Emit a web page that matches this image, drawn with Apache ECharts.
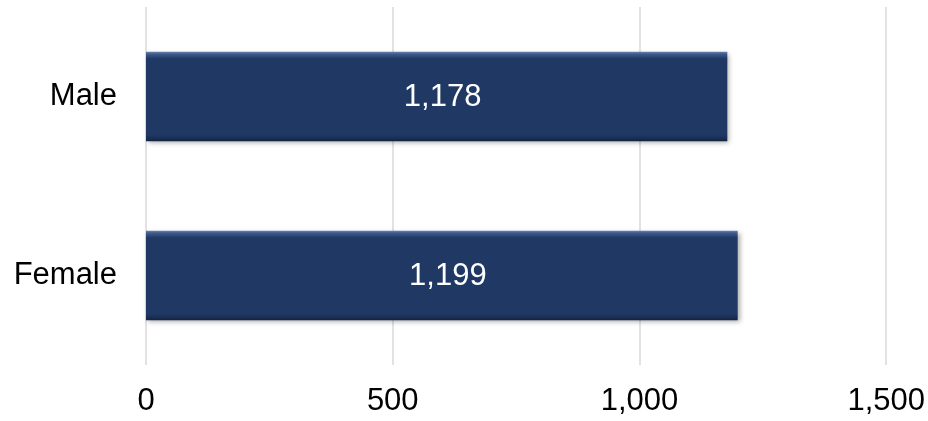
<!DOCTYPE html>
<html>
<head>
<meta charset="utf-8">
<script src="https://cdn.jsdelivr.net/npm/echarts@6/dist/echarts.min.js"></script>
<style>
  html, body { margin: 0; padding: 0; background: #fff; }
  #chart { width: 928px; height: 421px; }
</style>
</head>
<body>
<div id="chart"></div>
<script>
let categories = ["Female", "Male"];
let counts = [1199, 1178];
let xTicks = [0, 500, 1000, 1500];

let chart = echarts.init(document.getElementById("chart"));

// bevel look: light top edge, dark bottom edge
let barFill = new echarts.graphic.LinearGradient(0, 0, 0, 1, [
  { offset: 0, color: "#6a84b0" },
  { offset: 0.025, color: "#3f5b8c" },
  { offset: 0.08, color: "#1f3864" },
  { offset: 0.93, color: "#1f3864" },
  { offset: 0.97, color: "#182d52" },
  { offset: 1, color: "#12233f" }
]);

let font = "Liberation Sans, Arial, sans-serif";

let option = {
  animation: false,
  grid: { left: 146, right: 41, top: 7, bottom: 56 },
  xAxis: {
    type: "value",
    min: xTicks[0],
    max: xTicks[xTicks.length - 1],
    interval: 500,
    axisLine: { show: false },
    axisTick: { show: false },
    splitLine: { lineStyle: { color: "#d9d9d9", width: 1.5 } },
    axisLabel: {
      margin: 21,
      fontFamily: font,
      fontSize: 31,
      color: "#000",
      formatter: function (v) { return echarts.format.addCommas(v); }
    }
  },
  yAxis: {
    type: "category",
    data: categories,
    axisLine: { show: false },
    axisTick: { show: false },
    axisLabel: {
      margin: 29,
      fontFamily: font,
      fontSize: 31,
      color: "#000"
    }
  },
  series: [
    {
      type: "bar",
      data: counts,
      barCategoryGap: "50%",
      itemStyle: {
        color: barFill,
        shadowColor: "rgba(0,0,0,0.35)",
        shadowBlur: 5,
        shadowOffsetX: 2,
        shadowOffsetY: 2
      },
      label: {
        show: true,
        position: "inside",
        offset: [6, 1],
        color: "#fff",
        fontFamily: font,
        fontSize: 31,
        formatter: function (p) { return echarts.format.addCommas(p.value); }
      }
    }
  ]
};

chart.setOption(option);
</script>
</body>
</html>
